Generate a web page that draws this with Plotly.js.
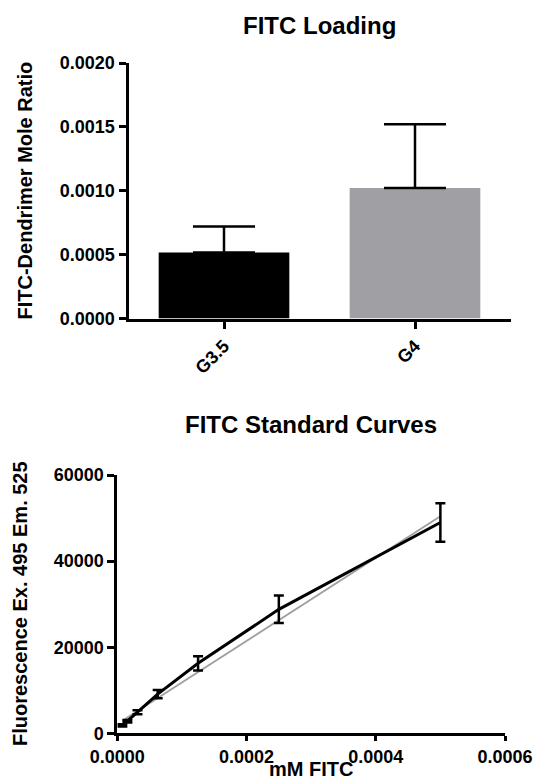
<!DOCTYPE html>
<html>
<head>
<meta charset="utf-8">
<script src="https://cdn.plot.ly/plotly-3.0.1.min.js"></script>
<style>html,body{margin:0;padding:0;background:#fff;}#chart{width:537px;height:781px;}</style>
</head>
<body>
<div id="chart"></div>
<script>
// ---- Top chart: FITC Loading ----
const loadCategories = ["G3.5", "G4"];
const loadValues = [0.000516, 0.001022];
const loadErrUp = [0.000204, 0.000498];
const loadColors = ["#000000", "#a0a0a4"];

// ---- Bottom chart: FITC Standard Curves ----
const stdX = [0.0000078125, 0.000015625, 0.00003125, 0.0000625, 0.000125, 0.00025, 0.0005];
const stdY = [1850, 2800, 4900, 9100, 16250, 28800, 48970];
const stdSD = [250, 300, 450, 950, 1650, 3200, 4460];
const fitX = [0.0000078125, 0.0005];
const fitY = [2900, 50400];

const xTicks2 = [0, 0.0002, 0.0004, 0.0006];
const yTicks2 = [0, 20000, 40000, 60000];
const yTicks1 = [0, 0.0005, 0.001, 0.0015, 0.002];

const FONT = "Liberation Sans, Arial, Helvetica, sans-serif";
const W = 537, H = 781;
const px = v => v / W;
const py = v => 1 - v / H;

const axisCommon = {
  showgrid: false, zeroline: false, showline: true, linecolor: "#000", linewidth: 3,
  ticks: "outside", ticklen: 7, tickwidth: 3, tickcolor: "#000",
  tickfont: {family: FONT, size: 18, color: "#000", weight: "bold"},
  fixedrange: true
};

const data = [
  {
    type: "bar", x: loadCategories, y: loadValues, xaxis: "x", yaxis: "y",
    marker: {color: loadColors, line: {width: 0}},
    error_y: {type: "data", symmetric: false, array: loadErrUp, arrayminus: [0, 0],
              color: "#000", thickness: 2.5, width: 31},
    hoverinfo: "none"
  },
  {
    type: "scatter", mode: "lines", x: fitX, y: fitY, xaxis: "x2", yaxis: "y2",
    line: {color: "#a0a0a0", width: 1.8}, hoverinfo: "none"
  },
  {
    type: "scatter", mode: "lines", x: stdX, y: stdY, xaxis: "x2", yaxis: "y2",
    line: {color: "#000", width: 3},
    error_y: {type: "data", array: stdSD, color: "#000", thickness: 2.5, width: 5},
    hoverinfo: "none"
  }
];

const layout = {
  width: W, height: H,
  margin: {l: 0, r: 0, t: 0, b: 0},
  paper_bgcolor: "#fff", plot_bgcolor: "#fff",
  showlegend: false,
  bargap: 0.316,
  font: {family: FONT, color: "#000"},
  xaxis: Object.assign({}, axisCommon, {
    domain: [px(128.5), px(510.5)], anchor: "y", type: "category",
    range: [-0.5, 1.5], tickangle: -45
  }),
  yaxis: Object.assign({}, axisCommon, {
    domain: [py(318.5), py(63)], anchor: "x", range: [0, 0.002],
    tickvals: yTicks1, tickformat: ".4f"
  }),
  xaxis2: Object.assign({}, axisCommon, {
    domain: [px(117.3), px(505)], anchor: "y2", range: [0, 0.0006],
    tickvals: xTicks2, tickformat: ".4f", ticklen: 5
  }),
  yaxis2: Object.assign({}, axisCommon, {
    domain: [py(733.3), py(475)], anchor: "x2", range: [0, 60000],
    tickvals: yTicks2, tickformat: "d"
  }),
  annotations: [
    {text: "FITC Loading", xref: "paper", yref: "paper", x: px(319.5), y: py(26),
     xanchor: "center", yanchor: "middle", showarrow: false,
     font: {family: FONT, size: 24, color: "#000", weight: "bold"}},
    {text: "FITC-Dendrimer Mole Ratio", xref: "paper", yref: "paper", x: px(24), y: py(190.5),
     xanchor: "center", yanchor: "middle", showarrow: false, textangle: -90,
     font: {family: FONT, size: 20, color: "#000", weight: "bold"}},
    {text: "FITC Standard Curves", xref: "paper", yref: "paper", x: px(311), y: py(424),
     xanchor: "center", yanchor: "middle", showarrow: false,
     font: {family: FONT, size: 24, color: "#000", weight: "bold"}},
    {text: "Fluorescence Ex. 495 Em. 525", xref: "paper", yref: "paper", x: px(20), y: py(604),
     xanchor: "center", yanchor: "middle", showarrow: false, textangle: -90,
     font: {family: FONT, size: 20, color: "#000", weight: "bold"}},
    {text: "mM FITC", xref: "paper", yref: "paper", x: px(311), y: py(769),
     xanchor: "center", yanchor: "middle", showarrow: false,
     font: {family: FONT, size: 20, color: "#000", weight: "bold"}}
  ]
};

Plotly.newPlot("chart", data, layout, {displayModeBar: false, staticPlot: true});
</script>
</body>
</html>
